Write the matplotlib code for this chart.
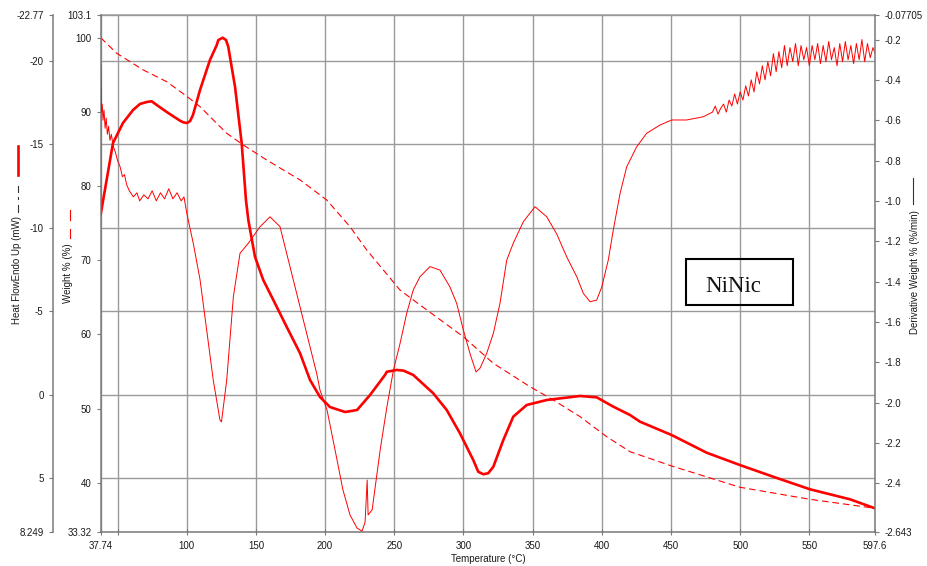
import matplotlib
matplotlib.use("Agg")
import matplotlib.pyplot as plt
from matplotlib.lines import Line2D
from matplotlib.patches import Rectangle

plt.rcParams['font.family'] = ['Liberation Sans', 'DejaVu Sans']

# ---------------- data ----------------
# Heat flow (mW), thick solid curve, left outer axis (inverted)
hf_temp = [37.74, 46.7, 53.9, 61.2, 66.2, 71.1, 74.7, 78.3, 85.5, 95.1, 97.5, 100.2,
           102.4, 104.5, 109.6, 116.8, 121.7, 122.8, 126.0, 128.4, 130.0, 134.9,
           139.7, 142.8, 144.5, 149.3, 155.3, 162.6, 172.2, 181.9, 189.1, 196.3,
           203.5, 214.4, 223.1, 232.5, 243.3, 244.6, 251.7, 256.7, 263.7, 278.2,
           287.9, 297.5, 307.1, 310.7, 314.3, 317.9, 321.6, 328.8, 336.0, 345.7,
           360.2, 384.3, 396.3, 408.3, 420.4, 427.6, 450.5, 475.8, 499.9, 523.9,
           550.4, 579.3, 597.4]
hf_value = [-10.77, -15.08, -16.28, -17.06, -17.42, -17.54, -17.58, -17.36, -16.94,
            -16.42, -16.32, -16.28, -16.39, -16.76, -18.26, -20.06, -20.95, -21.25,
            -21.39, -21.25, -20.85, -18.45, -15.08, -11.67, -10.47, -8.27, -6.87,
            -5.67, -4.07, -2.48, -0.88, 0.14, 0.74, 1.04, 0.92, 0.02, -1.18, -1.37,
            -1.48, -1.44, -1.18, -0.08, 0.92, 2.32, 3.92, 4.62, 4.77, 4.71, 4.32,
            2.72, 1.32, 0.62, 0.32, 0.08, 0.16, 0.72, 1.22, 1.62, 2.42, 3.48, 4.22,
            4.92, 5.67, 6.27, 6.81]

# Weight (%), dashed curve, inner left axis
wt_temp = [37.8, 49.4, 68.6, 85.5, 100.4, 109.6, 128.9, 140.9, 157.8, 181.9, 201.2,
           218.0, 230.1, 254.1, 263.7, 299.9, 321.6, 348.1, 364.9, 384.3, 403.5,
           420.4, 450.5, 499.9, 550.4, 597.4]
wt_value = [100.0, 97.90, 95.65, 94.07, 92.05, 90.70, 87.11, 85.53, 83.51, 80.82,
            78.12, 74.52, 71.38, 65.99, 64.64, 59.69, 56.10, 52.95, 51.16, 48.91,
            46.21, 44.19, 42.26, 39.39, 37.77, 36.56]

# Derivative weight (%/min), thin noisy curve, right axis
dw_temp = [37.74, 37.76, 38.3, 38.9, 39.5, 40.2, 41.0, 41.8, 42.6, 43.5, 44.5, 45.5,
           46.9, 48.5, 50.0, 51.8, 53.5, 55.0, 56.6, 58.5, 61.4, 64, 66, 69, 72, 75,
           78, 81, 84, 87, 90, 93, 96, 98, 100.0, 104.7, 109.6, 114.4, 119.2, 124.0,
           125.1, 128.9, 133.7, 138.5, 144.5, 153.0, 160.2, 167.4, 172.2, 177.0,
           181.9, 186.7, 191.5, 193.9, 196.3, 201.4, 207.2, 212.9, 218.0, 223.1,
           226.7, 228.9, 230.4, 231.1, 234.0, 239.8, 244.6, 249.4, 254.2, 259.0,
           263.7, 268.6, 275.8, 283.0, 290.2, 295.1, 299.9, 304.7, 309.1, 312.0,
           316.8, 321.6, 326.4, 331.3, 336.0, 343.3, 351.7, 360.2, 367.4, 374.6,
           381.9, 386.6, 391.5, 396.3, 400.0, 404.7, 408.3, 413.2, 418.0, 425.2,
           432.4, 442.0, 450.5, 461.3, 473.3,
           480, 482, 484, 486, 488, 490, 492, 494, 496, 498, 500, 502, 504, 506,
           508, 510, 512, 514, 516, 518, 520, 522, 524, 526, 528, 530, 532, 534,
           536, 538, 540, 542, 544, 546, 548, 550, 552, 554, 556, 558, 560, 562,
           564, 566, 568, 570, 572, 574, 576, 578, 580, 582, 584, 586, 588, 590,
           592, 594, 596, 597.6]
dw_value = [-1.070, -0.326, -0.56, -0.52, -0.60, -0.55, -0.64, -0.59, -0.67, -0.63,
            -0.70, -0.67, -0.73, -0.76, -0.80, -0.83, -0.88, -0.87, -0.92, -0.95,
            -0.98, -0.96, -1.00, -0.97, -0.99, -0.95, -1.00, -0.96, -0.99, -0.94,
            -0.99, -0.96, -1.00, -0.98, -1.06, -1.21, -1.39, -1.64, -1.89, -2.086,
            -2.096, -1.888, -1.475, -1.260, -1.210, -1.128, -1.079, -1.128, -1.260,
            -1.392, -1.525, -1.657, -1.789, -1.855, -1.938, -2.037, -2.235, -2.433,
            -2.557, -2.622, -2.637, -2.593, -2.384, -2.557, -2.532, -2.235, -2.024,
            -1.839, -1.706, -1.557, -1.442, -1.376, -1.326, -1.343, -1.426, -1.508,
            -1.640, -1.756, -1.848, -1.829, -1.756, -1.657, -1.508, -1.293, -1.210,
            -1.103, -1.029, -1.079, -1.164, -1.277, -1.376, -1.458, -1.500, -1.492,
            -1.426, -1.293, -1.144, -0.963, -0.831, -0.732, -0.665, -0.624, -0.599,
            -0.599, -0.583,
            -0.56, -0.53, -0.57, -0.54, -0.52, -0.56, -0.50, -0.53, -0.47, -0.52,
            -0.46, -0.50, -0.43, -0.48, -0.40, -0.46, -0.36, -0.42, -0.33, -0.40,
            -0.31, -0.38, -0.27, -0.36, -0.26, -0.34, -0.23, -0.33, -0.24, -0.31,
            -0.22, -0.33, -0.23, -0.30, -0.24, -0.33, -0.23, -0.30, -0.22, -0.32,
            -0.23, -0.31, -0.21, -0.30, -0.24, -0.33, -0.22, -0.31, -0.21, -0.30,
            -0.23, -0.32, -0.22, -0.30, -0.20, -0.31, -0.22, -0.29, -0.24, -0.27]

x_ticks = [37.74, 50, 100, 150, 200, 250, 300, 350, 400, 450, 500, 550, 597.6]
x_labels = ['37.74', '', '100', '150', '200', '250', '300', '350', '400', '450',
            '500', '550', '597.6']
hf_ticks = [-22.77, -20, -15, -10, -5, 0, 5, 8.249]
hf_labels = ['-22.77', '-20', '-15', '-10', '-5', '0', '5', '8.249']
wt_ticks = [103.1, 100, 90, 80, 70, 60, 50, 40, 33.32]
wt_labels = ['103.1', '100', '90', '80', '70', '60', '50', '40', '33.32']
dw_ticks = [-0.07705, -0.2, -0.4, -0.6, -0.8, -1.0, -1.2, -1.4, -1.6, -1.8, -2.0,
            -2.2, -2.4, -2.643]
dw_labels = ['-0.07705', '-0.2', '-0.4', '-0.6', '-0.8', '-1.0', '-1.2', '-1.4',
             '-1.6', '-1.8', '-2.0', '-2.2', '-2.4', '-2.643']

# ---------------- figure ----------------
W, H = 927, 566
fig = plt.figure(figsize=(W / 100, H / 100), dpi=100)
L, R, T, B = 100.6, 875.2, 14.7, 532.3
ax = fig.add_axes([L / W, 1 - B / H, (R - L) / W, (B - T) / H])
ax_w = ax.twinx()
ax_d = ax.twinx()

grid_c = '#9a9a9a'
spine_c = '#7a7a7a'
lab_c = '#1a1a1a'
fs = 7

ax.set_xlim(37.74, 597.6)
ax.set_ylim(8.249, -22.77)
ax_w.set_ylim(33.32, 103.1)
ax_d.set_ylim(-2.643, -0.07705)

# spines
for a in (ax, ax_w, ax_d):
    for s in a.spines.values():
        s.set_visible(False)
ax.spines['left'].set_visible(True)
ax.spines['left'].set_position(('outward', 48 * 0.72))
ax.spines['bottom'].set_visible(True)
ax.spines['top'].set_visible(True)
ax_w.spines['left'].set_visible(True)
ax_d.spines['right'].set_visible(True)
for s in (ax.spines['left'], ax.spines['bottom'], ax.spines['top'],
          ax_w.spines['left'], ax_d.spines['right']):
    s.set_color(spine_c)
    s.set_linewidth(1.1)
ax.spines['top'].set_color(grid_c)

# ticks
ax.set_xticks(x_ticks)
ax.set_xticklabels(x_labels)
ax.set_yticks(hf_ticks)
ax.set_yticklabels(hf_labels)
ax.yaxis.tick_left()
ax_w.yaxis.tick_left()
ax_w.set_yticks(wt_ticks)
ax_w.set_yticklabels(wt_labels)
ax_d.yaxis.tick_right()
ax_d.set_yticks(dw_ticks)
ax_d.set_yticklabels(dw_labels)

for a in (ax, ax_w, ax_d):
    a.tick_params(axis='y', direction='out', length=2.9, width=0.8, colors=spine_c,
                  labelcolor=lab_c, labelsize=fs, pad=3.6)
ax.tick_params(axis='x', direction='inout', length=4, width=0.8, colors=spine_c,
               labelcolor=lab_c, labelsize=fs, pad=4.5)

ax.set_axisbelow(True)
ax.grid(True, color=grid_c, linewidth=1.0)

# curves
ax.plot(hf_temp, hf_value, color='#ff0000', lw=1.9, solid_joinstyle='round')
ax_w.plot(wt_temp, wt_value, color='#ff0000', lw=0.8, dashes=(6, 3.5))
ax_d.plot(dw_temp, dw_value, color='#ff0000', lw=0.7)

# axis labels (figure text) with legend symbols
def fx(px):
    return px / W

def fy(py):
    return 1 - py / H

fig.text(fx(17.5), fy(270), 'Heat FlowEndo Up (mW)', rotation=90, ha='center',
         va='center', fontsize=fs, color=lab_c)
fig.add_artist(Line2D([fx(17.5)] * 2, [fy(146), fy(175)], color='#ff0000', lw=1.9))
fig.add_artist(Line2D([fx(17.5)] * 2, [fy(186), fy(192)], color='#333333', lw=0.8))
fig.add_artist(Line2D([fx(17.5)] * 2, [fy(197), fy(199)], color='#333333', lw=0.8))
fig.add_artist(Line2D([fx(17.5)] * 2, [fy(205), fy(212)], color='#333333', lw=0.8))

fig.text(fx(68), fy(273), 'Weight % (%)', rotation=90, ha='center', va='center',
         fontsize=fs, color=lab_c)
fig.add_artist(Line2D([fx(69.5)] * 2, [fy(210), fy(220)], color='#ff0000', lw=0.8))
fig.add_artist(Line2D([fx(69.5)] * 2, [fy(229), fy(238)], color='#ff0000', lw=0.8))

fig.text(fx(915), fy(272), 'Derivative Weight % (%/min)', rotation=90, ha='center',
         va='center', fontsize=fs, color=lab_c)
fig.add_artist(Line2D([fx(913)] * 2, [fy(178), fy(204)], color='#333333', lw=0.8))

fig.text(fx(488), fy(554), 'Temperature (°C)', ha='center', va='top', fontsize=fs,
         color=lab_c)

# NiNic box
fig.add_artist(Rectangle((fx(686), fy(305.5)), 107 / W, 46.5 / H,
                         transform=fig.transFigure, fill=False, lw=1.5,
                         ec='black', fc='none'))
fig.text(fx(733.3), fy(291.5), 'NiNic', ha='center', va='baseline', fontsize=16.5,
         family=['Liberation Serif', 'DejaVu Serif'], color='#111111')

fig.savefig('out.png', dpi=100)
